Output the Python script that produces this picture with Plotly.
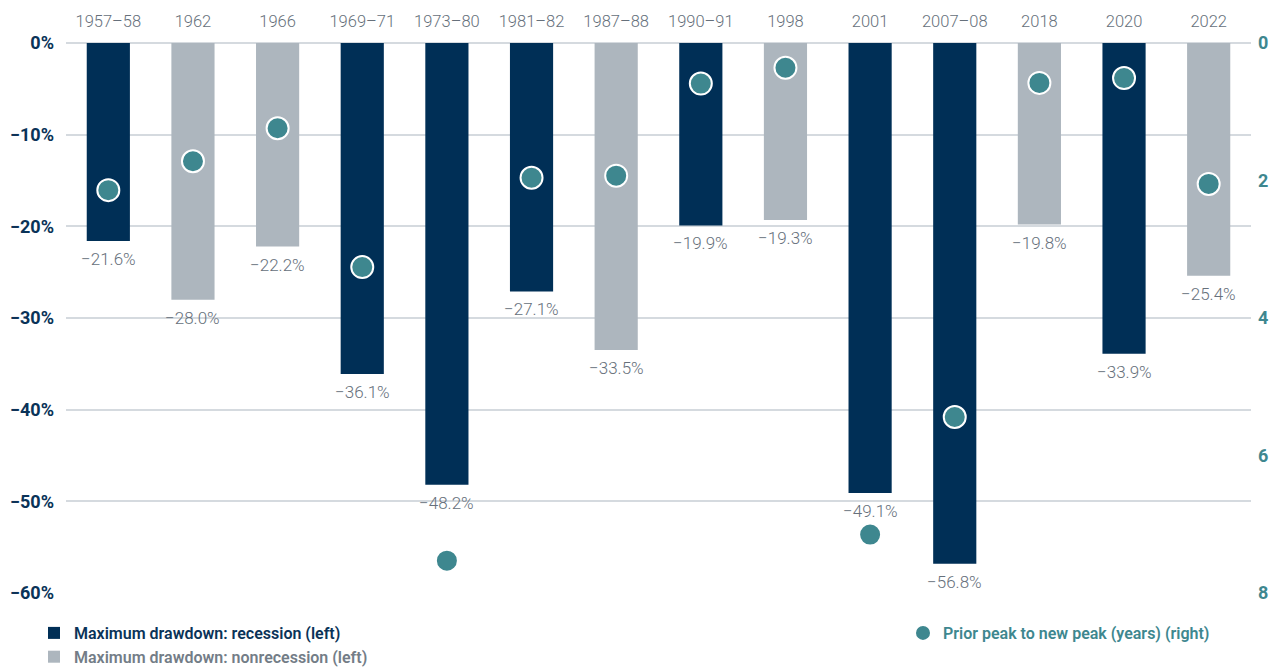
import plotly.graph_objects as go

categories = ["1957–58", "1962", "1966", "1969–71", "1973–80", "1981–82", "1987–88",
              "1990–91", "1998", "2001", "2007–08", "2018", "2020", "2022"]
drawdown = [-21.6, -28.0, -22.2, -36.1, -48.2, -27.1, -33.5,
            -19.9, -19.3, -49.1, -56.8, -19.8, -33.9, -25.4]
recession = [True, False, False, True, True, True, False,
             True, False, True, True, False, True, False]
peak_years = [2.14, 1.72, 1.24, 3.26, 7.53, 1.96, 1.93,
              0.59, 0.36, 7.15, 5.44, 0.58, 0.51, 2.05]
left_ticks = [0, -10, -20, -30, -40, -50, -60]
left_tick_text = ["0%", "−10%", "−20%", "−30%", "−40%", "−50%", "−60%"]
right_ticks = [0, 2, 4, 6, 8]

NAVY = "#002f56"
GRAY = "#adb6be"
TEAL = "#3e878f"
LABEL = "#66707b"
FONT = "Roboto"

ML, MR, MT, MB = 66, 27, 43, 77
PW, PH = 1278 - ML - MR, 670 - MT - MB


def fmt(v):
    return "−" + f"{abs(v):.1f}%"


idx = list(range(len(categories)))
rec_x = [i for i, r in zip(idx, recession) if r]
rec_y = [v for v, r in zip(drawdown, recession) if r]
non_x = [i for i, r in zip(idx, recession) if not r]
non_y = [v for v, r in zip(drawdown, recession) if not r]

fig = go.Figure()
fig.add_trace(go.Bar(
    x=rec_x, y=rec_y, name="<span style='color:#0a3358'>Maximum drawdown: recession (left)</span>",
    marker=dict(color=NAVY, line=dict(width=0)), width=0.51,
    legend="legend",
))
fig.add_trace(go.Bar(
    x=non_x, y=non_y, name="<span style='color:#737d87'>Maximum drawdown: nonrecession (left)</span>",
    marker=dict(color=GRAY, line=dict(width=0)), width=0.51,
    legend="legend",
))
fig.add_trace(go.Scatter(
    x=idx, y=peak_years, yaxis="y2", mode="markers",
    name="<span style='color:#3e878f'>Prior peak to new peak (years) (right)</span>",
    marker=dict(color=TEAL, size=22, line=dict(color="white", width=2)),
    cliponaxis=False, legend="legend2",
))

annotations = [
    dict(x=i, y=v, xref="x", yref="y", text=fmt(v), showarrow=False,
         yanchor="top", yshift=-6,
         font=dict(size=17, color=LABEL, family=FONT, weight=300))
    for i, v in zip(idx, drawdown)
]

fig.update_layout(
    width=1278, height=670,
    margin=dict(l=ML, r=MR, t=MT, b=MB, autoexpand=False),
    paper_bgcolor="white", plot_bgcolor="white",
    barmode="overlay",
    font=dict(family=FONT, color=LABEL),
    showlegend=True,
    annotations=annotations,
    xaxis=dict(
        range=[-0.5, len(categories) - 0.5], tickvals=idx, ticktext=categories,
        side="top", showgrid=False, showline=False, zeroline=False,
        ticks="", tickangle=0, tickfont=dict(size=16.5, color=LABEL, family=FONT, weight=300),
        ticklabelstandoff=12, automargin=False,
    ),
    yaxis=dict(
        range=[-60, 0], tickvals=left_ticks, ticktext=left_tick_text,
        showgrid=True, gridcolor="#d5dadf", gridwidth=2,
        zeroline=True, zerolinecolor="#d5dadf", zerolinewidth=2,
        showline=False, ticks="", automargin=False,
        tickfont=dict(size=18, color="#0a3358", family=FONT, weight="bold"),
        ticklabelstandoff=11,
    ),
    yaxis2=dict(
        overlaying="y", side="right", range=[8, 0], tickvals=right_ticks,
        showgrid=False, zeroline=False, showline=False, ticks="", automargin=False,
        tickfont=dict(size=18, color=TEAL, family=FONT, weight="bold"),
        ticklabelstandoff=6,
    ),
    legend=dict(
        x=(34 - ML) / PW, y=-(616 - (MT + PH)) / PH,
        xanchor="left", yanchor="top", orientation="v",
        font=dict(size=16, family=FONT, weight=600), bgcolor="rgba(0,0,0,0)",
        tracegroupgap=0,
    ),
    legend2=dict(
        x=(903 - ML) / PW, y=-(616 - (MT + PH)) / PH,
        xanchor="left", yanchor="top", orientation="v",
        font=dict(size=16, family=FONT, weight=600), bgcolor="rgba(0,0,0,0)",
    ),
)

fig.write_html("out.html", config={"displayModeBar": False},
               post_script="document.body.style.margin='0';")
